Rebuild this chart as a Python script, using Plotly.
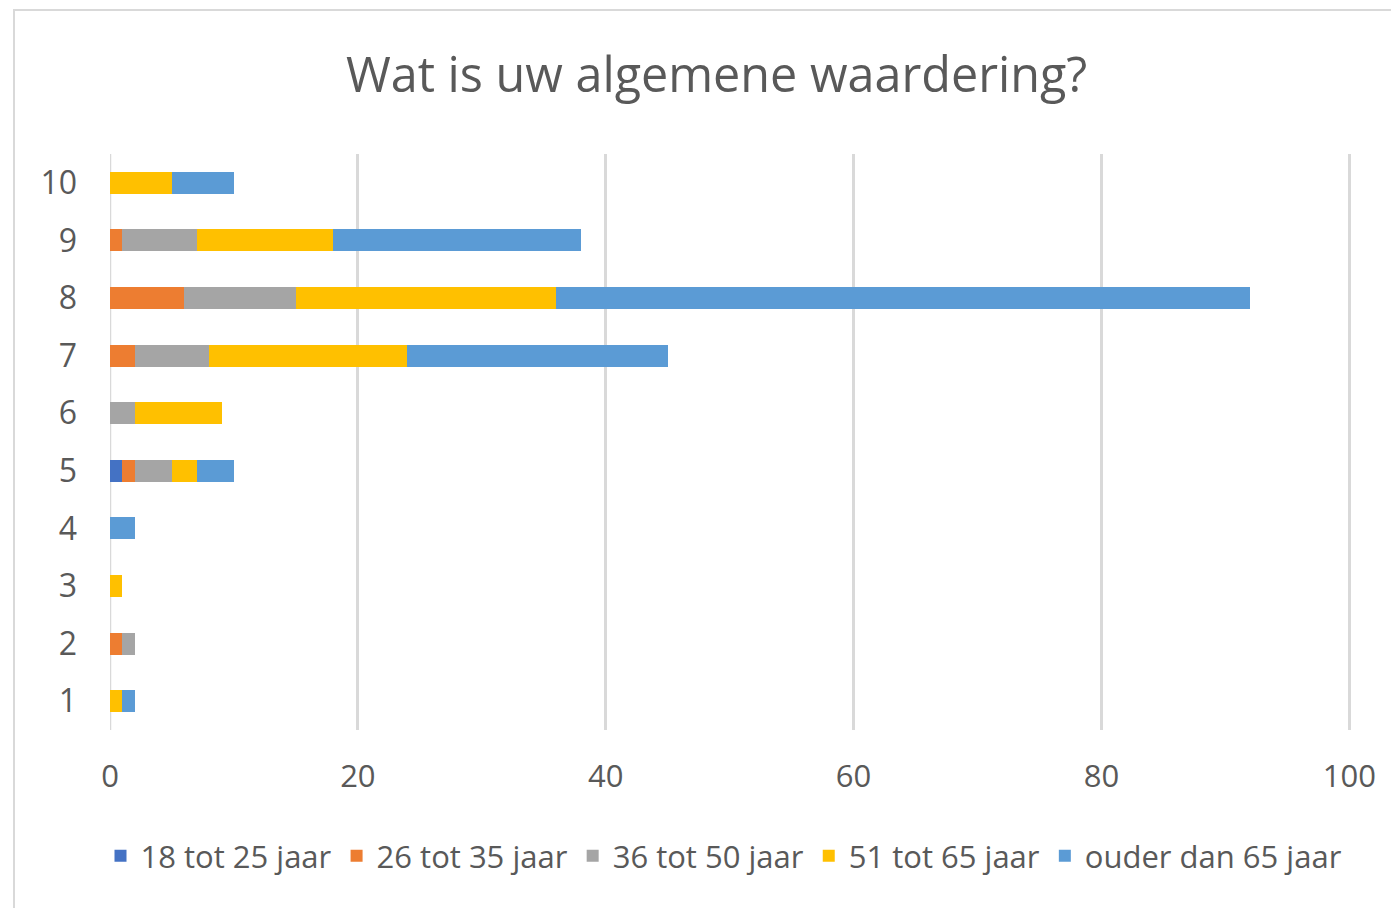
import plotly.graph_objects as go

categories = ["1", "2", "3", "4", "5", "6", "7", "8", "9", "10"]
series_names = ["18 tot 25 jaar", "26 tot 35 jaar", "36 tot 50 jaar", "51 tot 65 jaar", "ouder dan 65 jaar"]
v_18_25 = [0, 0, 0, 0, 1, 0, 0, 0, 0, 0]
v_26_35 = [0, 1, 0, 0, 1, 0, 2, 6, 1, 0]
v_36_50 = [0, 1, 0, 0, 3, 2, 6, 9, 6, 0]
v_51_65 = [1, 0, 1, 0, 2, 7, 16, 21, 11, 5]
v_65plus = [1, 0, 0, 2, 3, 0, 21, 56, 20, 5]
colors = ["#4472C4", "#ED7D31", "#A5A5A5", "#FFC000", "#5B9BD5"]
x_ticks = [0, 20, 40, 60, 80, 100]

fig = go.Figure()
for name, vals, col in zip(series_names, [v_18_25, v_26_35, v_36_50, v_51_65, v_65plus], colors):
    fig.add_trace(go.Bar(y=categories, x=vals, name=name, orientation="h",
                         marker=dict(color=col, line=dict(width=0))))

font_family = "Open Sans, Noto Sans, sans-serif"
fig.update_layout(
    barmode="stack",
    bargap=0.62,
    width=1399, height=908,
    paper_bgcolor="white", plot_bgcolor="white",
    margin=dict(l=102, r=54, t=146, b=186),
    title=dict(text="Wat is uw algemene waardering?", x=0.5065, xanchor="center",
               y=1 - 67 / 908, yanchor="middle",
               font=dict(family=font_family, size=48.5, color="#595959")),
    font=dict(family=font_family, color="#595959"),
    xaxis=dict(range=[0, 100.3], tickvals=x_ticks, showgrid=True, gridcolor="#D9D9D9",
               gridwidth=2.5, zeroline=False, showline=False,
               tickfont=dict(size=31, color="#595959"), ticklabelstandoff=25),
    yaxis=dict(type="category", range=[-0.5, 9.5], showgrid=False, zeroline=False,
               showline=False, tickfont=dict(size=32, color="#595959"),
               ticklabelstandoff=32),
    legend=dict(orientation="h", xref="container", yref="container",
                x=(724 - 8) / 1399, xanchor="center",
                y=1 - (856 - 8) / 908, yanchor="middle",
                font=dict(size=31, color="#595959"), traceorder="normal",
                itemwidth=30, tracegroupgap=0),
    showlegend=True,
)
fig.add_shape(type="line", xref="x", yref="paper", x0=0, x1=0, y0=0, y1=1,
              line=dict(color="#D9D9D9", width=2.5), layer="below")
fig.add_shape(type="rect", xref="paper", yref="paper",
              x0=(6 - 102) / 1243, x1=1.2, y0=-0.5, y1=(722 - 2) / 576,
              line=dict(color="#D9D9D9", width=2), fillcolor="rgba(0,0,0,0)", layer="below")

fig.write_html("out.html")
